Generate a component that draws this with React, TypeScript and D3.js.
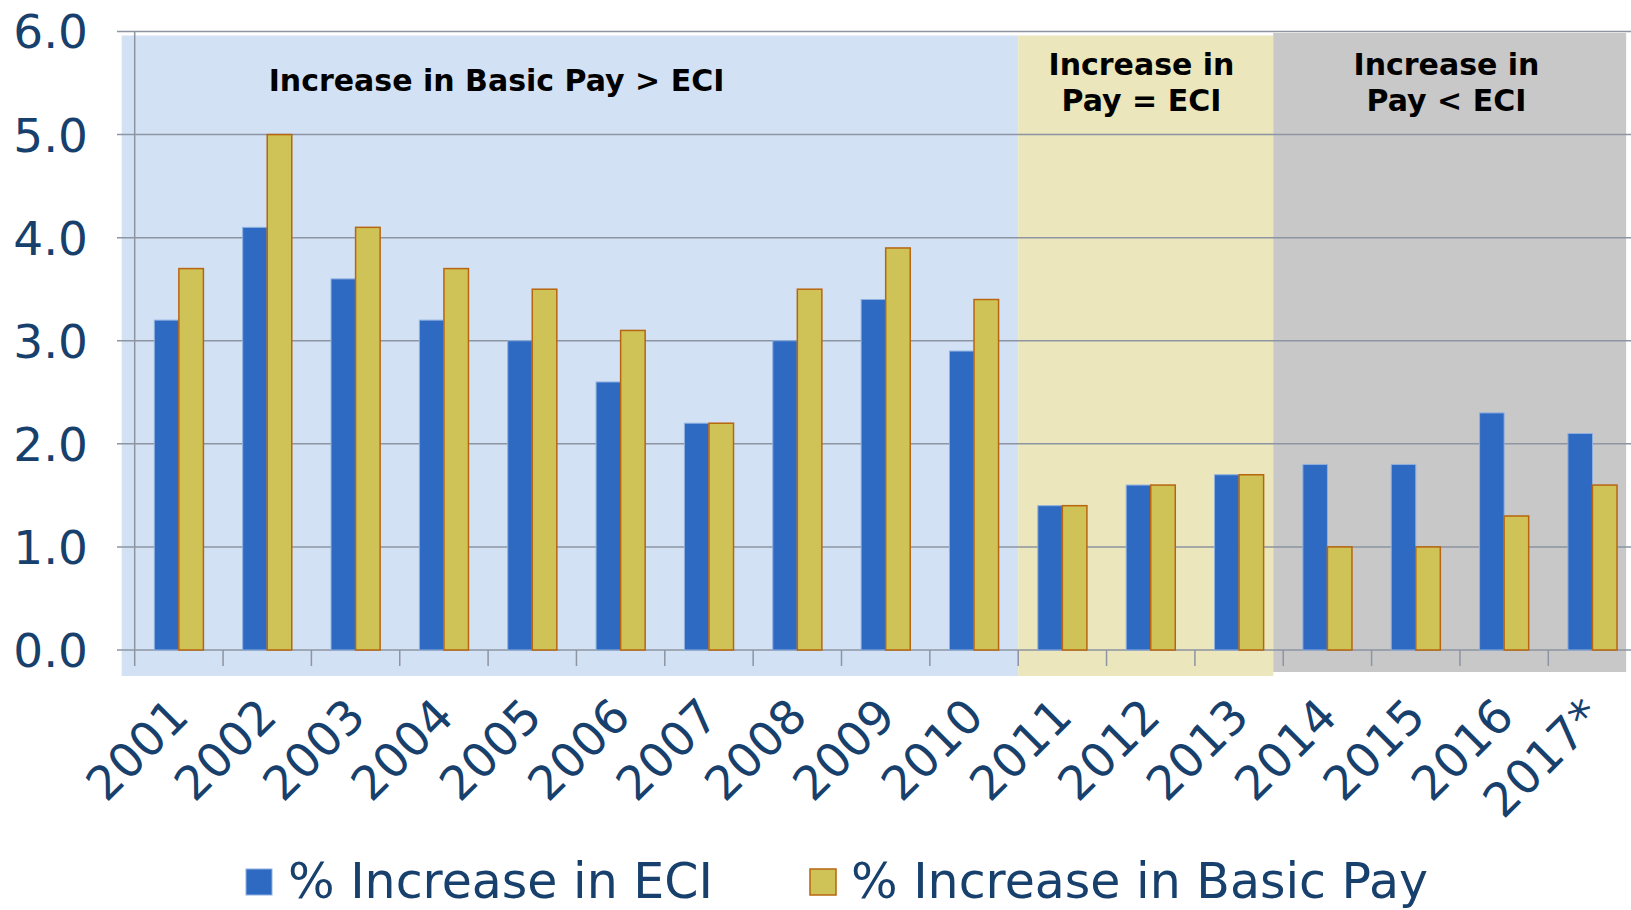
import React from "react";
import * as d3 from "d3";

const categories = ["2001","2002","2003","2004","2005","2006","2007","2008","2009","2010","2011","2012","2013","2014","2015","2016","2017*"];
const eciValues = [3.2,4.1,3.6,3.2,3.0,2.6,2.2,3.0,3.4,2.9,1.4,1.6,1.7,1.8,1.8,2.3,2.1];
const payValues = [3.7,5.0,4.1,3.7,3.5,3.1,2.2,3.5,3.9,3.4,1.4,1.6,1.7,1.0,1.0,1.3,1.6];
const yTicks = [0,1,2,3,4,5,6];
const seriesNames = ["% Increase in ECI","% Increase in Basic Pay"];
const regionFrom = ["2001","2011","2014"];
const regionTo = ["2010","2013","2017*"];
const regionLabels = [["Increase in Basic Pay > ECI"],["Increase in","Pay = ECI"],["Increase in","Pay < ECI"]];

const W = 1631, H = 910;
const AXIS_X = 134.7;
const STEP = 88.35;
const Y0 = 650, Y6 = 31.5;

const BLUE = "#2E6AC1", BLUE_STROKE = "#8FB0E0";
const GOLD = "#CFC357", GOLD_STROKE = "#B8650F";
const NAVY = "#17406D";
const GRID = "#8D94A2";
const REGION_FILL = ["#D3E1F4","#EBE6BB","#C8C8C8"];

export default function App() {
  const x = d3.scaleBand().domain(categories).range([AXIS_X, AXIS_X + STEP * categories.length]).paddingInner(0).paddingOuter(0);
  const bw = x.bandwidth();
  const inner = d3.scaleBand().domain(["eci","pay"]).range([0, bw]).paddingInner(0).paddingOuter(0.8);
  const y = d3.scaleLinear().domain([0, 6]).range([Y0, Y6]);

  const regionRects = [
    { x0: (x(regionFrom[0]) as number) - 13, x1: (x(regionTo[0]) as number) + bw, top: 35.5, bottom: 676 },
    { x0: (x(regionFrom[1]) as number), x1: (x(regionTo[1]) as number) + bw - 10, top: 35.5, bottom: 676 },
    { x0: (x(regionFrom[2]) as number) - 10, x1: (x(regionTo[2]) as number) + bw - 10.5, top: 33, bottom: 672 },
  ];
  const labelPos = [
    { cx: 496.5, cy: [80] },
    { cx: 1141.5, cy: [64.5, 100] },
    { cx: 1446.5, cy: [64.5, 100] },
  ];

  return (
    <div style={{ position: "fixed", left: 0, top: 0, width: W, height: H, background: "#fff" }}>
      <svg width={W} height={H} style={{ display: "block" }}>
        <rect x={0} y={0} width={W} height={H} fill="#fff" />
        {regionRects.map((r, i) => (
          <rect key={"reg" + i} x={r.x0} y={r.top} width={r.x1 - r.x0} height={r.bottom - r.top} fill={REGION_FILL[i]} />
        ))}
        {yTicks.map((t) => (
          <line key={"g" + t} x1={117} x2={W} y1={y(t)} y2={y(t)} stroke={GRID} strokeWidth={1.5} />
        ))}
        <line x1={AXIS_X} x2={AXIS_X} y1={Y6} y2={Y0 + 16} stroke={GRID} strokeWidth={1.5} />
        {categories.map((c, i) => (
          <line key={"xt" + i} x1={(x(c) as number) + bw} x2={(x(c) as number) + bw} y1={Y0} y2={Y0 + 16} stroke={GRID} strokeWidth={1.5} />
        ))}
        {categories.map((c, i) => {
          const bx = x(c) as number;
          return (
            <g key={"b" + i}>
              <rect x={bx + (inner("eci") as number)} y={y(eciValues[i])} width={inner.bandwidth()} height={Y0 - y(eciValues[i])} fill={BLUE} stroke={BLUE_STROKE} strokeWidth={1} />
              <rect x={bx + (inner("pay") as number)} y={y(payValues[i])} width={inner.bandwidth()} height={Y0 - y(payValues[i])} fill={GOLD} stroke={GOLD_STROKE} strokeWidth={1.5} />
            </g>
          );
        })}
        {yTicks.map((t) => (
          <text key={"yl" + t} x={88} y={y(t)} dy="0.36em" textAnchor="end" fontFamily="DejaVu Sans" fontSize={47} fill={NAVY}>
            {t.toFixed(1)}
          </text>
        ))}
        {categories.map((c, i) => {
          const cx = (x(c) as number) + bw / 2;
          return (
            <text key={"xl" + i} transform={`translate(${cx},707) rotate(-45)`} dy="0.36em" textAnchor="end" fontFamily="DejaVu Sans" fontSize={47} fill={NAVY}>
              {c}
            </text>
          );
        })}
        {regionLabels.map((lines, i) =>
          lines.map((ln, j) => (
            <text key={"rl" + i + "_" + j} x={labelPos[i].cx} y={labelPos[i].cy[j]} dy="0.36em" textAnchor="middle" fontFamily="DejaVu Sans" fontWeight="bold" fontSize={30} fill="#000">
              {ln}
            </text>
          ))
        )}
        <rect x={246} y={869} width={26} height={26} fill={BLUE} stroke={BLUE_STROKE} strokeWidth={1} />
        <text x={288} y={880} dy="0.36em" fontFamily="DejaVu Sans" fontSize={49} fill={NAVY}>{seriesNames[0]}</text>
        <rect x={810} y={869} width={26} height={26} fill={GOLD} stroke={GOLD_STROKE} strokeWidth={1.5} />
        <text x={851} y={880} dy="0.36em" fontFamily="DejaVu Sans" fontSize={49} fill={NAVY}>{seriesNames[1]}</text>
      </svg>
    </div>
  );
}
